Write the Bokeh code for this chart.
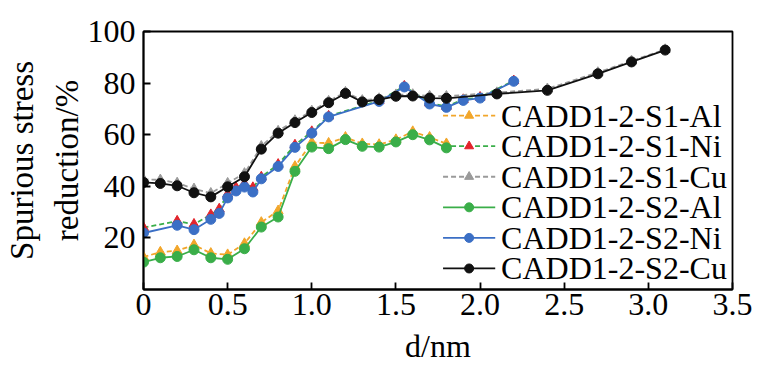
from bokeh.plotting import figure
from bokeh.models import Range1d, FixedTicker
from bokeh.core.properties import value
from bokeh.embed import file_html
from bokeh.resources import INLINE

# ---- data ----
d_al = [0, 0.1, 0.2, 0.3, 0.4, 0.5, 0.6, 0.7, 0.8, 0.9, 1.0, 1.1, 1.2, 1.3, 1.4, 1.5, 1.6, 1.7, 1.8]
s1_al = [12.6, 14.5, 15.0, 17.3, 14.0, 13.5, 17.8, 26.0, 30.5, 47.7, 57.0, 56.7, 59.0, 56.5, 56.2, 58.1, 61.2, 59.0, 56.5]
s2_al = [10.6, 12.3, 12.8, 15.4, 12.3, 11.7, 15.8, 24.2, 28.1, 45.8, 55.2, 54.6, 58.1, 55.5, 55.2, 57.2, 60.0, 58.0, 54.9]

d_ni = [0, 0.2, 0.3, 0.4, 0.45, 0.5, 0.55, 0.6, 0.65, 0.7, 0.8, 0.9, 1.0, 1.1, 1.4, 1.55, 1.7, 1.8, 1.9, 2.0, 2.2]
s1_ni = [24.0, 26.5, 25.3, 29.0, 31.2, 37.0, 39.5, 41.0, 39.5, 43.6, 48.5, 56.0, 61.2, 67.2, 73.2, 78.8, 72.3, 71.0, 73.6, 74.5, 80.9]
s2_ni = [21.9, 24.9, 23.2, 27.2, 29.5, 35.5, 38.2, 39.7, 37.8, 42.9, 47.7, 55.1, 60.6, 66.9, 72.9, 78.5, 71.9, 70.6, 73.3, 74.2, 80.7]

d_cu = [0, 0.1, 0.2, 0.3, 0.4, 0.5, 0.6, 0.7, 0.8, 0.9, 1.0, 1.1, 1.2, 1.3, 1.4, 1.5, 1.6, 1.7, 1.8, 2.1, 2.4, 2.7, 2.9, 3.1]
s1_cu = [42.7, 42.5, 41.3, 39.0, 37.3, 41.2, 45.0, 55.5, 61.4, 65.5, 69.2, 73.0, 76.5, 73.3, 74.0, 75.5, 75.6, 75.0, 74.9, 76.3, 77.8, 84.1, 88.6, 93.0]
s2_cu = [41.5, 41.1, 40.2, 37.5, 35.9, 39.8, 43.7, 54.4, 60.6, 64.7, 68.6, 72.4, 76.0, 72.7, 73.6, 74.9, 75.0, 74.2, 74.1, 75.8, 77.2, 83.6, 88.2, 92.8]

x_ticks = [0, 0.5, 1.0, 1.5, 2.0, 2.5, 3.0, 3.5]
x_tick_labels = ["0", "0.5", "1.0", "1.5", "2.0", "2.5", "3.0", "3.5"]
y_ticks = [20, 40, 60, 80, 100]

labels = ["CADD1-2-S1-Al", "CADD1-2-S1-Ni", "CADD1-2-S1-Cu",
          "CADD1-2-S2-Al", "CADD1-2-S2-Ni", "CADD1-2-S2-Cu"]

FONT = "Liberation Serif"
FS = "32px"

p = figure(width=761, height=367, output_backend="svg", toolbar_location=None,
           x_range=Range1d(0, 3.5), y_range=Range1d(0, 100),
           min_border_left=142, min_border_right=29, min_border_top=31, min_border_bottom=78)
p.grid.visible = False
p.outline_line_color = "black"
p.outline_line_width = 1.8
p.background_fill_color = "white"
p.border_fill_color = "white"

for ax in (p.xaxis[0], p.yaxis[0]):
    ax.major_tick_in = 7
    ax.major_tick_out = 0
    ax.minor_tick_line_color = None
    ax.axis_line_width = 1.8
    ax.axis_line_color = "black"
    ax.major_tick_line_width = 1.8
    ax.major_tick_line_color = "black"
    ax.major_label_text_font = FONT
    ax.major_label_text_font_size = FS
    ax.major_label_text_color = "black"
    ax.axis_label_text_font = FONT
    ax.axis_label_text_font_size = FS
    ax.axis_label_text_font_style = "normal"
    ax.axis_label_text_color = "black"

p.xaxis.ticker = FixedTicker(ticks=x_ticks)
p.xaxis.major_label_overrides = {t: s for t, s in zip(x_ticks, x_tick_labels)}
p.xaxis.major_label_standoff = 4
p.xaxis.axis_label = "d/nm"
p.xaxis.axis_label_standoff = 10
p.yaxis.ticker = FixedTicker(ticks=y_ticks)
p.yaxis.major_label_standoff = 8
p.yaxis.axis_label = "Spurious stress\nreduction/%"
p.yaxis.axis_label_text_font_size = "33px"
p.yaxis.axis_label_standoff = 0
p.yaxis.axis_label_text_line_height = 1.25

ORANGE = "#f2a62a"
RED = "#e3242b"
GREEN = "#3aae49"
GRAY = "#9a9a9a"
BLUE = "#3b6fc5"
BLACK = "#111111"

series = [
    (d_al, s1_al, ORANGE, ORANGE, "5 3", "triangle"),
    (d_ni, s1_ni, GREEN, RED, "5 3", "triangle"),
    (d_cu, s1_cu, GRAY, GRAY, "5 3", "triangle"),
    (d_al, s2_al, GREEN, GREEN, "solid", "circle"),
    (d_ni, s2_ni, BLUE, BLUE, "solid", "circle"),
    (d_cu, s2_cu, BLACK, BLACK, "solid", "circle"),
]

for xs, ys, lc, mc, dash, mk in series:
    p.line(xs, ys, line_color=lc, line_width=1.8, line_dash=dash)
    p.scatter(xs, ys, marker=mk, size=10, fill_color=mc, line_color=mc)

# ---- legend (drawn in the plot's data space) ----
LEG_X0, LEG_X1, LEG_TX = 1.78, 2.09, 2.125
LEG_Y_TOP, LEG_DY = 67.4, 11.85
for i, ((xs, ys, lc, mc, dash, mk), lab) in enumerate(zip(series, labels)):
    yy = LEG_Y_TOP - i * LEG_DY
    p.line([LEG_X0, LEG_X1], [yy, yy], line_color=lc, line_width=1.8, line_dash=dash)
    p.scatter([(LEG_X0 + LEG_X1) / 2], [yy], marker=mk, size=9, fill_color=mc, line_color=mc)
    p.text([LEG_TX], [yy], text=[lab], text_font=value(FONT), text_font_size=value(FS),
           text_color="black", text_align="left", text_baseline="middle")

open("out.html", "w").write(file_html(p, INLINE))
